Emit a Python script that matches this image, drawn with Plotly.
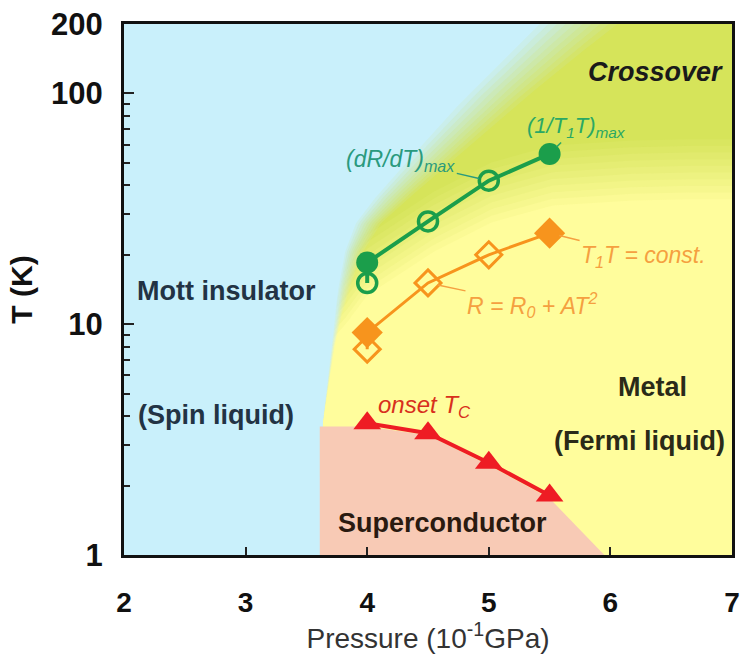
import numpy as np
import plotly.graph_objects as go

# ---------------- data ----------------
dRdT_p = [4.0, 4.5, 5.0]          # (dR/dT)max  open circles
dRdT_T = [15.1, 27.9, 41.9]
T1Tmax_p = [4.0, 5.5]             # (1/T1T)max filled circles
T1Tmax_T = [18.5, 54.7]
AT2_p = [4.0, 4.5, 5.0]           # R = R0 + AT^2 open diamonds
AT2_T = [7.8, 15.1, 20.0]
T1Tc_p = [4.0, 5.5]               # T1T = const filled diamonds
T1Tc_T = [9.2, 24.8]
Tc_p = [4.0, 4.5, 5.0, 5.5]       # onset Tc triangles
Tc_T = [3.72, 3.37, 2.51, 1.81]

# phase boundaries
mott_T = [1, 3.6, 7, 10, 13, 20, 27, 33, 42, 55, 90, 140, 200]
mott_p = [3.61, 3.63, 3.70, 3.75, 3.79, 3.88, 4.0, 4.15, 4.35, 4.58, 5.0, 5.4, 5.74]
mott_blur = [0.0, 0.0, 0.01, 0.02, 0.04, 0.07, 0.10, 0.13, 0.16, 0.19, 0.24, 0.28, 0.32]
cross_p = [2.0, 3.6, 3.8, 4.0, 4.5, 5.0, 5.5, 6.0, 6.5, 7.0]
cross_T = [10, 10, 13, 18, 27, 37, 44, 46, 47, 47]
sc_p = [3.61, 3.61, 4.0, 4.5, 5.0, 5.5, 5.95]
sc_T = [1.0, 3.6, 3.6, 3.3, 2.45, 1.76, 1.0]

x_ticks = [2, 3, 4, 5, 6, 7]
y_ticks = [1, 10, 100, 200]
y_minor = [2, 3, 4, 5, 6, 7, 8, 9, 20, 30, 40, 50, 60, 70, 80, 90]

# ---------------- colours ----------------
YELLOW = '#fffd9c'
GREEN_BG = '#d6e45a'
BLUE = '#c9f0fb'
PINK = '#f8cab5'
GREEN = '#1b9e4b'
ORANGE = '#f7941d'
RED = '#ee1c24'

fig = go.Figure()

# crossover (green) shading with soft lower edge
N = 10
xs = np.linspace(2, 7, 201)
base = np.interp(xs, cross_p, np.log10(cross_T))
blur = 0.13
for k in range(N):
    off = -blur + 2 * blur * k / (N - 1)
    edge = 10 ** (base + off)
    fig.add_trace(go.Scatter(
        x=list(xs) + [7.1, 1.9], y=list(edge) + [400, 400],
        fill='toself', mode='lines', line=dict(width=0),
        fillcolor=GREEN_BG, opacity=1.0 / (N - k), hoverinfo='skip'))

# Mott insulator (blue) shading with soft right edge
lt = np.linspace(np.log10(0.9), np.log10(260), 240)
bx = np.interp(lt, np.log10(mott_T), mott_p)
bw = np.interp(lt, np.log10(mott_T), mott_blur)
for k in range(N):
    off = 1 - 2 * k / (N - 1)
    ex = bx + bw * off
    fig.add_trace(go.Scatter(
        x=[1.9] + list(ex) + [1.9], y=[10 ** lt[0]] + list(10 ** lt) + [10 ** lt[-1]],
        fill='toself', mode='lines', line=dict(width=0),
        fillcolor=BLUE, opacity=1.0 / (N - k), hoverinfo='skip'))

# superconductor (pink)
fig.add_trace(go.Scatter(x=sc_p, y=sc_T, fill='toself', mode='lines',
                         line=dict(width=0), fillcolor=PINK, hoverinfo='skip'))

# lines connecting the points
g_pts = sorted(zip(dRdT_p + T1Tmax_p, dRdT_T + T1Tmax_T))
o_pts = sorted(zip(AT2_p + T1Tc_p, AT2_T + T1Tc_T))
fig.add_trace(go.Scatter(x=[p for p, _ in g_pts], y=[t for _, t in g_pts], mode='lines',
                         line=dict(color=GREEN, width=4), hoverinfo='skip'))
fig.add_trace(go.Scatter(x=[p for p, _ in o_pts], y=[t for _, t in o_pts], mode='lines',
                         line=dict(color=ORANGE, width=3), hoverinfo='skip'))
fig.add_trace(go.Scatter(x=Tc_p, y=Tc_T, mode='lines+markers',
                         line=dict(color=RED, width=4),
                         marker=dict(symbol='triangle-up', size=24, color=RED)))

fig.add_trace(go.Scatter(x=dRdT_p, y=dRdT_T, mode='markers',
                         marker=dict(symbol='circle-open', size=19, color=GREEN,
                                     line=dict(width=3.5, color=GREEN))))
fig.add_trace(go.Scatter(x=T1Tmax_p, y=T1Tmax_T, mode='markers',
                         marker=dict(symbol='circle', size=22, color=GREEN)))
fig.add_trace(go.Scatter(x=AT2_p, y=AT2_T, mode='markers',
                         marker=dict(symbol='diamond-open', size=20, color=ORANGE,
                                     line=dict(width=3, color=ORANGE))))
fig.add_trace(go.Scatter(x=T1Tc_p, y=T1Tc_T, mode='markers',
                         marker=dict(symbol='diamond', size=24, color=ORANGE)))

L = np.log10
FONT = 'Liberation Sans, Arial, sans-serif'


def label(x, y, text, size=27, color='#222', bold=True, italic=False):
    fig.add_annotation(x=x, y=L(y), text=text, showarrow=False,
                       font=dict(family=FONT, size=size, color=color,
                                 weight='bold' if bold else 'normal',
                                 style='italic' if italic else 'normal'))


def leader(x, y, text, ax, ay, color, size=23):
    fig.add_annotation(x=x, y=L(y), text=text, showarrow=True, ax=ax, ay=ay,
                       arrowhead=0, arrowwidth=1.5, arrowcolor=color, standoff=10,
                       font=dict(family=FONT, size=size, color=color, style='italic'))


label(6.37, 124, 'Crossover', size=27, color='#1a1a1a', italic=True)
label(2.84, 14.0, 'Mott insulator', color='#223344')
label(2.76, 4.03, '(Spin liquid)', color='#223344')
label(6.35, 5.37, 'Metal', color='#2a2a18')
label(6.24, 3.12, '(Fermi liquid)', color='#2a2a18')
label(4.62, 1.37, 'Superconductor', color='#2a1a10')
label(4.47, 4.40, 'onset T<sub>C</sub>', size=24, color='#d8301c', bold=False, italic=True)

leader(T1Tmax_p[1], T1Tmax_T[1], '(1/T<sub>1</sub>T)<sub>max</sub>', 27, -27, '#2aa865', size=22)
leader(dRdT_p[2], dRdT_T[2], '(dR/dT)<sub>max</sub>', -88, -20, '#2a9a7e', size=23)
leader(T1Tc_p[1], T1Tc_T[1], 'T<sub>1</sub>T = const.', 94, 23, '#f5a040', size=23)
leader(AT2_p[1], AT2_T[1], 'R = R<sub>0</sub> + AT<sup>2</sup>', 104, 22, '#f5a040', size=23)

fig.update_layout(
    width=747, height=660, margin=dict(l=124, r=7, t=19, b=105),
    paper_bgcolor='white', plot_bgcolor=YELLOW, showlegend=False,
    font=dict(family=FONT))

fig.update_xaxes(range=[2, 7], tickvals=x_ticks, ticks='inside', ticklen=8, tickwidth=2,
                 tickcolor='#222', showline=True, linewidth=3, linecolor='#111', mirror=True,
                 showgrid=False, zeroline=False, ticklabelstandoff=20,
                 tickfont=dict(family=FONT, size=28, color='#111', weight='bold'),
                 title=dict(text='Pressure (10<sup>-1</sup>GPa)', standoff=12,
                            font=dict(family=FONT, size=28, color='#333')))
fig.update_yaxes(type='log', range=[0, L(200)], tickvals=y_ticks, ticks='inside',
                 ticklen=10, tickwidth=2, tickcolor='#222', showline=True, linewidth=3,
                 linecolor='#111', mirror=True, showgrid=False, zeroline=False,
                 ticklabelstandoff=12,
                 minor=dict(tickmode='array', tickvals=y_minor, ticks='inside', ticklen=6,
                            tickwidth=1.5, tickcolor='#222', showgrid=False),
                 tickfont=dict(family=FONT, size=31, color='#111', weight='bold'),
                 title=dict(text='T (K)', standoff=10,
                            font=dict(family=FONT, size=30, color='#111', weight='bold')))

fig.write_html('out.html')
